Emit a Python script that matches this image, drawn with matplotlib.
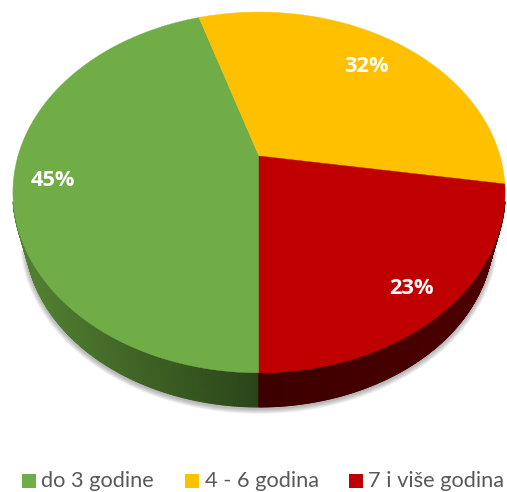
import numpy as np
import matplotlib
matplotlib.use("Agg")
import matplotlib.pyplot as plt
from matplotlib.collections import PolyCollection
from matplotlib.colors import to_rgb
from matplotlib.patches import Rectangle

plt.rcParams['font.family'] = ['Lato', 'DejaVu Sans']

labels = ["do 3 godine", "4 - 6 godina", "7 i više godina"]
shares = [45.2, 32.3, 22.5]
pct_labels = ["45%", "32%", "23%"]
colors = ["#70ad47", "#ffc000", "#c00000"]
side_left = ["#517f30", "#9a7400", "#4c0000"]
side_right = ["#2b4519", "#9a7400", "#3c0000"]

# where things sit in the picture, in pixels
W, H = 507, 492
cx, apex_y = 259, 156
a, b, k = 241, 173, 0.202     # perspective of the pie top
mid_y, rim_scale, rim_drop = 192.5, 0.95, 43


def top_xy(t):
    # t is clockwise from the bottom of the pie
    x, y = -np.sin(t), -np.cos(t)
    return cx + a * x / (1 + k * y), apex_y - b * y / (1 + k * y)


def rim_xy(t):
    x, y = top_xy(t)
    return cx + (x - cx) * rim_scale, mid_y + (y - mid_y) * rim_scale + rim_drop


fig = plt.figure(figsize=(W / 100, H / 100), dpi=100)
ax = fig.add_axes([0, 0, 1, 1])
ax.set_xlim(0, W)
ax.set_ylim(H, 0)
ax.axis("off")

edges = np.deg2rad(np.concatenate([[0], np.cumsum(shares)]) * 3.6)

# soft shadow under the pie, only along the lower part
t = np.linspace(-np.pi * 0.41, np.pi * 0.41, 300)
sx, sy = rim_xy(t)
for lw in [8, 6.5, 5, 3.5, 2]:
    ax.plot(sx, sy + 1.5, color="black", lw=lw, alpha=0.06, zorder=1, solid_capstyle="butt")

# side wall, thin strips so the colour can change along the rim
# only the front of the rim, the back is hidden by the top anyway
for i in range(len(shares)):
    t = np.linspace(edges[i], edges[i + 1], 400)
    t = t[np.cos(t) > 0.25]
    if len(t) < 2:
        continue
    x1, y1 = top_xy(t)
    x2, y2 = rim_xy(t)
    ax.fill(np.r_[x1, x2[::-1]], np.r_[y1, y2[::-1]], color=side_right[i], lw=0, zorder=2)
    polys, cols = [], []
    for j in range(len(t) - 1):
        polys.append([(x1[j], y1[j]), (x1[j + 1], y1[j + 1]), (x2[j + 1], y2[j + 1]), (x2[j], y2[j])])
        f = min(abs(x1[j] - cx) / 230, 1)
        cols.append(tuple(np.array(to_rgb(side_right[i])) * (1 - f) + np.array(to_rgb(side_left[i])) * f))
    ax.add_collection(PolyCollection(polys, facecolors=cols, edgecolors=cols, linewidths=1.0, zorder=2))

# top face
for i in range(len(shares)):
    t = np.linspace(edges[i], edges[i + 1], 200)
    x, y = top_xy(t)
    ax.fill(np.r_[cx, x], np.r_[apex_y, y], color=colors[i], lw=0.3, zorder=3)

pct_pos = [(53, 180), (366, 66), (411, 288)]
for i in range(len(shares)):
    ax.text(pct_pos[i][0], pct_pos[i][1], pct_labels[i], color="white", fontsize=15.7, family="Open Sans",
            fontweight="bold", ha="center", va="center", zorder=4)

# legend
box_x = [22, 185, 349]
text_x = [41, 205, 368]
for i in range(len(labels)):
    ax.add_patch(Rectangle((box_x[i], 474), 14, 14, color=colors[i], lw=0))
    ax.text(text_x[i], 481, labels[i], color="#595959", fontsize=15.7, ha="left", va="center")

fig.savefig("out.png", dpi=100)
